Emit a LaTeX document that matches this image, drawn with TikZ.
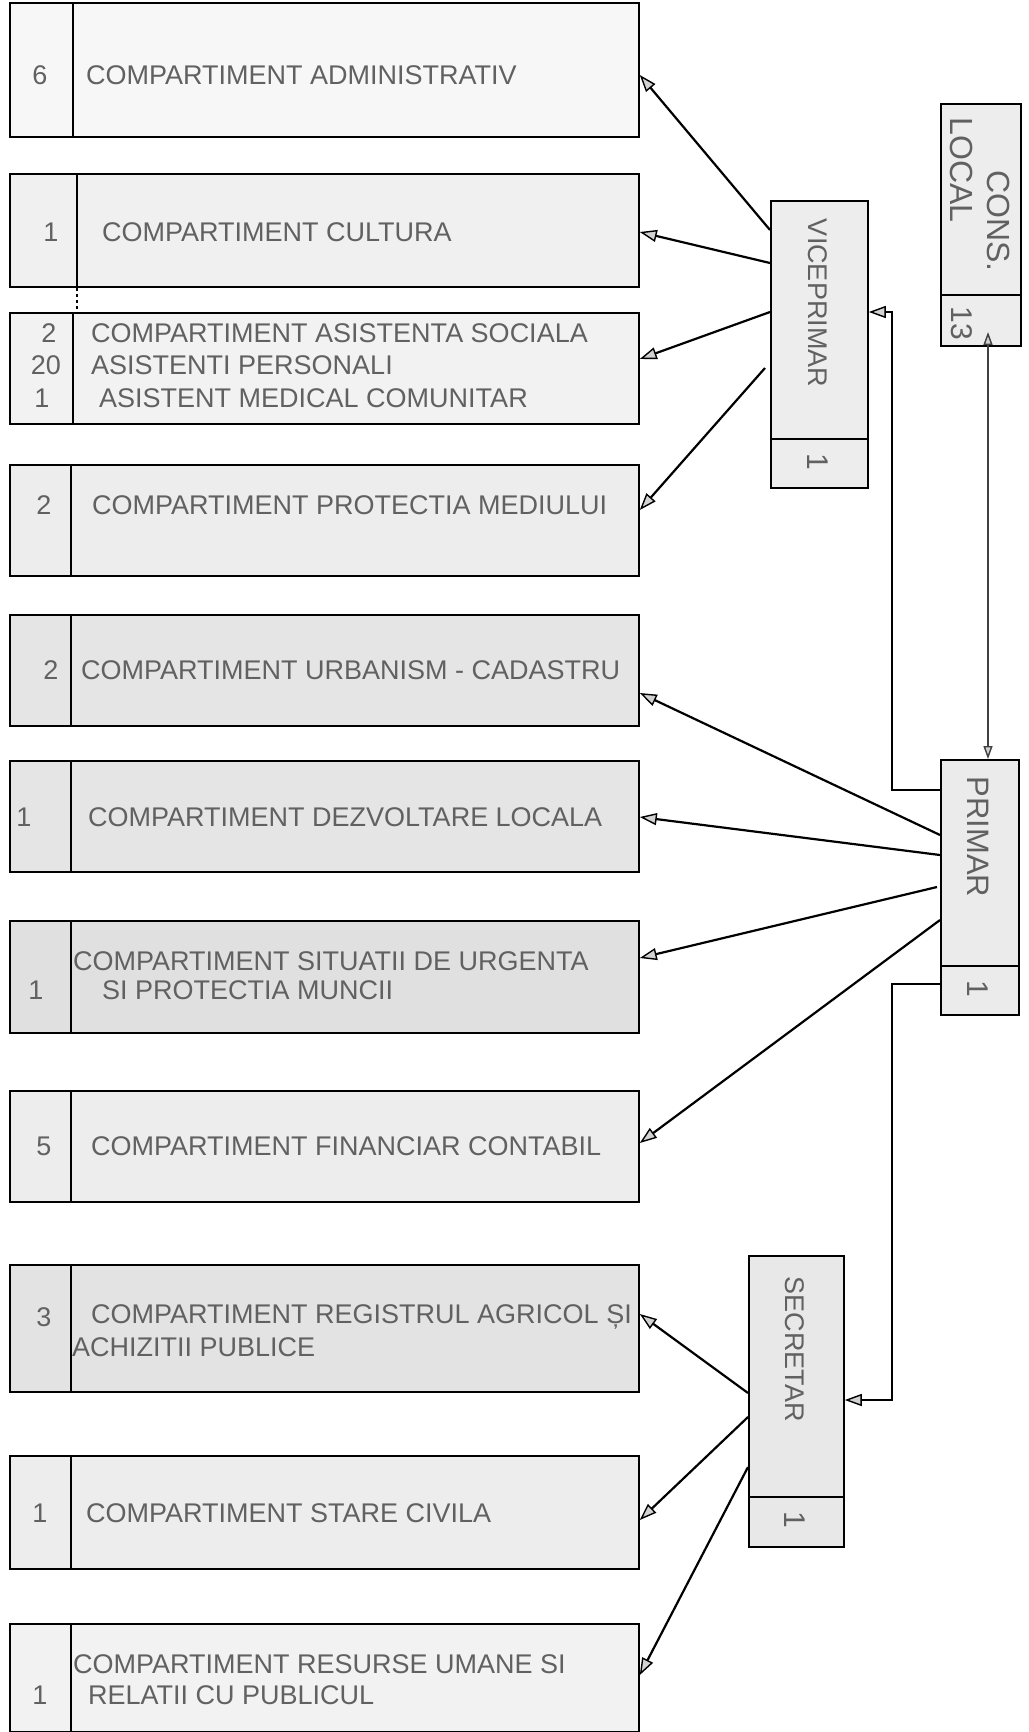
\documentclass[tikz,border=0pt]{standalone}
\usepackage{fontspec}
\setmainfont{Liberation Sans}
\usetikzlibrary{arrows.meta}
\begin{document}
\begin{tikzpicture}[x=1pt,y=-1pt,
  box/.style={draw=black,line width=1.8pt,anchor=north west,inner sep=0,minimum width=629pt},
  vbox/.style={draw=black,line width=1.8pt,anchor=north west,inner sep=0},
  txt/.style={font=\fontsize{27}{32}\selectfont,text=black!62,anchor=west,inner sep=0},
  num/.style={font=\fontsize{27}{32}\selectfont,text=black!62,inner sep=0},
  vtxt/.style={font=\fontsize{27}{32}\selectfont,text=black!62,inner sep=0,rotate=-90},
  bigtxt/.style={font=\fontsize{32}{36}\selectfont,text=black!62,inner sep=0,rotate=-90},
  vnum/.style={font=\fontsize{30}{34}\selectfont,text=black!62,inner sep=0,rotate=-90},
  divl/.style={draw=black,line width=1.8pt},
  arr/.style={draw=black,line width=2.2pt,-{Triangle[length=17pt,width=12pt,fill=gray!35,line width=1.4pt]}},
  darr/.style={draw=black!75,line width=1.4pt,{Triangle[length=13pt,width=9pt,fill=gray!35]}-{Triangle[length=13pt,width=9pt,fill=gray!35]}}
]
\useasboundingbox (0,0) rectangle (1028,1732);
\fill[white] (0,0) rectangle (1028,1732);

% left boxes
\node[box,fill=gray!6,minimum height=134pt] (b1) at (9,2) {};
\node[box,fill=gray!12,minimum height=113pt] (b2) at (9,173) {};
\node[box,fill=gray!10,minimum height=111pt] (b3) at (9,312) {};
\node[box,fill=gray!14,minimum height=111pt] (b4) at (9,464) {};
\node[box,fill=gray!20,minimum height=111pt] (b5) at (9,614) {};
\node[box,fill=gray!20,minimum height=111pt] (b6) at (9,760) {};
\node[box,fill=gray!24,minimum height=112pt] (b7) at (9,920) {};
\node[box,fill=gray!14,minimum height=111pt] (b8) at (9,1090) {};
\node[box,fill=gray!22,minimum height=127pt] (b9) at (9,1264) {};
\node[box,fill=gray!14,minimum height=113pt] (b10) at (9,1455) {};
\node[box,fill=gray!10,minimum height=108pt] (b11) at (9,1623) {};

% dividers
\draw[divl] ([xshift=64pt]b1.north west) -- ([xshift=64pt]b1.south west);
\draw[divl] ([xshift=68pt]b2.north west) -- ([xshift=68pt]b2.south west);
\draw[black,line width=1.2pt,dashed] ([xshift=68pt]b2.south west) -- ([xshift=68pt]b3.north west);
\draw[divl] ([xshift=64pt]b3.north west) -- ([xshift=64pt]b3.south west);
\foreach \b in {b4,b5,b6,b7,b8,b9,b10,b11}
  \draw[divl] ([xshift=62pt]\b.north west) -- ([xshift=62pt]\b.south west);

% texts
\node[txt] (t1) at (86,75) {COMPARTIMENT ADMINISTRATIV};
\node[num] (n1) at (40,75) {6};
\node[txt] (t2) at (102,232) {COMPARTIMENT CULTURA};
\node[num] (n2) at (51,232) {1};
\node[txt] (t3a) at (91,333) {COMPARTIMENT ASISTENTA SOCIALA};
\node[txt] (t3b) at (91,365) {ASISTENTI PERSONALI};
\node[txt] (t3c) at (99,398) {ASISTENT MEDICAL COMUNITAR};
\node[num] (n3a) at (49,333) {2};
\node[num] (n3b) at (46,365) {20};
\node[num] (n3c) at (42,398) {1};
\node[txt] (t4) at (92,505) {COMPARTIMENT PROTECTIA MEDIULUI};
\node[num] (n4) at (44,505) {2};
\node[txt] (t5) at (81,670) {COMPARTIMENT URBANISM - CADASTRU};
\node[num] (n5) at (51,670) {2};
\node[txt] (t6) at (88,817) {COMPARTIMENT DEZVOLTARE LOCALA};
\node[num] (n6) at (24,817) {1};
\node[txt] (t7a) at (73,961) {COMPARTIMENT SITUATII DE URGENTA};
\node[txt] (t7b) at (102,990) {SI PROTECTIA MUNCII};
\node[num] (n7) at (36,990) {1};
\node[txt] (t8) at (91,1146) {COMPARTIMENT FINANCIAR CONTABIL};
\node[num] (n8) at (44,1146) {5};
\node[txt] (t9a) at (91,1317) {COMPARTIMENT REGISTRUL AGRICOL ȘI};
\node[txt] (t9b) at (72,1347) {ACHIZITII PUBLICE};
\node[num] (n9) at (44,1317) {3};
\node[txt] (t10) at (86,1513) {COMPARTIMENT STARE CIVILA};
\node[num] (n10) at (40,1513) {1};
\node[txt] (t11a) at (73,1664) {COMPARTIMENT RESURSE UMANE SI};
\node[txt] (t11b) at (88,1695) {RELATII CU PUBLICUL};
\node[num] (n11) at (40,1695) {1};

% vertical boxes
\node[vbox,fill=gray!14,minimum width=97pt,minimum height=287pt] (vice) at (770,200) {};
\node[vbox,fill=gray!14,minimum width=80pt,minimum height=242pt] (cons) at (940,103) {};
\node[vbox,fill=gray!16,minimum width=78pt,minimum height=255pt] (primar) at (940,759) {};
\node[vbox,fill=gray!18,minimum width=95pt,minimum height=291pt] (secr) at (748,1255) {};

\draw[divl] (vice.west |- 0,439) -- (vice.east |- 0,439);
\draw[divl] (cons.west |- 0,295) -- (cons.east |- 0,295);
\draw[divl] (primar.west |- 0,966) -- (primar.east |- 0,966);
\draw[divl] (secr.west |- 0,1497) -- (secr.east |- 0,1497);

\node[vtxt] (tv) at (818,303) {VICEPRIMAR};
\node[vnum] (nv) at (818,462) {1};
\node[bigtxt] (tc1) at (999,221) {CONS.};
\node[bigtxt] (tc2) at (962,170) {LOCAL};
\node[vnum] (nc) at (962,323) {13};
\node[bigtxt,font=\fontsize{31}{36}\selectfont] (tp) at (978,837) {PRIMAR};
\node[vnum] (np) at (978,989) {1};
\node[vtxt] (ts) at (795,1349) {SECRETAR};
\node[vnum] (ns) at (795,1520) {1};

% connectors
\draw[arr] (vice.west |- 0,230) -- (b1.east |- 0,75);
\draw[arr] (vice.west |- 0,263) -- (b2.east |- 0,232);
\draw[arr] (vice.west |- 0,312) -- (b3.east |- 0,359);
\draw[arr] ([xshift=-5pt]vice.west |- 0,368) -- (b4.east |- 0,510);

\draw[arr] (primar.west |- 0,835) -- (b5.east |- 0,693);
\draw[arr] (primar.west |- 0,855) -- (b6.east |- 0,817);
\draw[arr] ([xshift=-3pt]primar.west |- 0,887) -- (b7.east |- 0,958);
\draw[arr] (primar.west |- 0,920) -- (b8.east |- 0,1143);

\draw[arr] (secr.west |- 0,1393) -- (b9.east |- 0,1314);
\draw[arr] (secr.west |- 0,1417) -- (b10.east |- 0,1520);
\draw[arr] (secr.west |- 0,1467) -- (b11.east |- 0,1675);

\coordinate (k1) at (892,790);
\coordinate (k2) at (892,312);
\coordinate (k3) at (892,984);
\coordinate (k4) at (892,1400);
\draw[arr] (primar.west |- k1) -- (k1) -- (k2) -- (vice.east |- k2);
\draw[arr] (primar.west |- k3) -- (k3) -- (k4) -- (secr.east |- k4);

\coordinate (kc) at (988,332);
\draw[darr] (kc) -- (primar.north -| kc);
\end{tikzpicture}
\end{document}
